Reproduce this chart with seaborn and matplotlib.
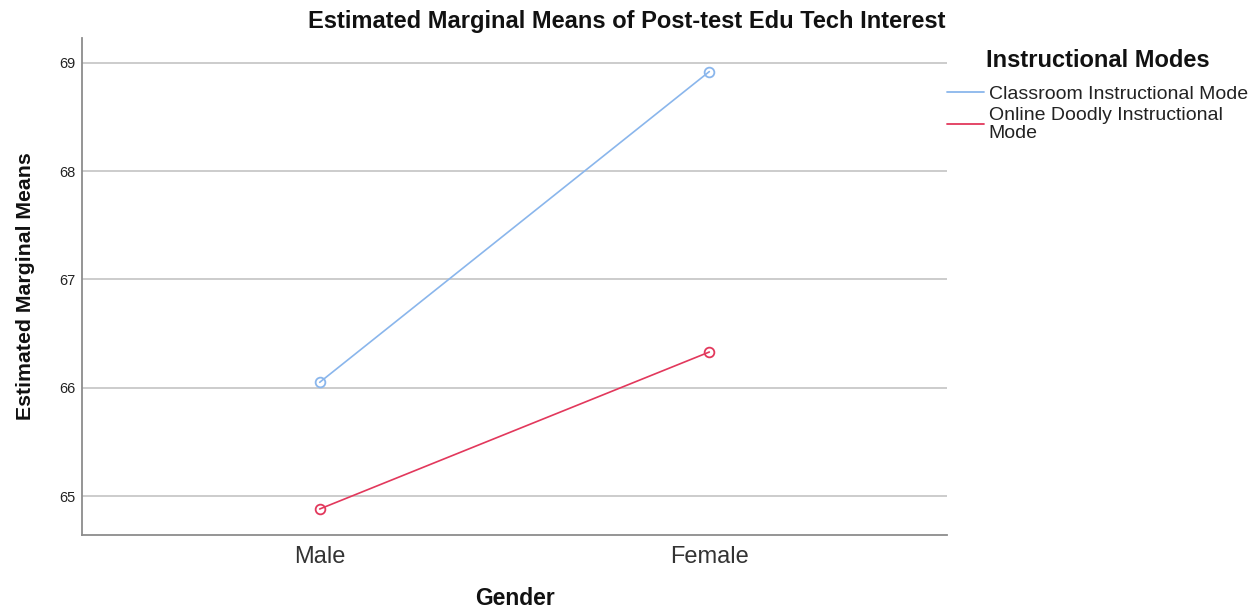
import matplotlib
matplotlib.use("Agg")
import matplotlib.pyplot as plt
import seaborn as sns
import pandas as pd
from matplotlib.lines import Line2D

genders = ["Male", "Female"]
modes = ["Classroom Instructional Mode", "Online Doodly Instructional\nMode"]
classroom_means = [66.05, 68.92]
online_means = [64.88, 66.33]
yticks = [65, 66, 67, 68, 69]

colors = ["#8ab6ec", "#e2385c"]

df = pd.DataFrame({
    "Gender": genders * 2,
    "Mean": classroom_means + online_means,
    "Mode": [modes[0]] * 2 + [modes[1]] * 2,
})

sns.set_theme(style="white")
plt.rcParams["font.family"] = ["Liberation Sans", "DejaVu Sans"]

fig = plt.figure(figsize=(12.59, 6.09), dpi=100)
ax = fig.add_axes([82 / 1259, 1 - 535 / 609, (947 - 82) / 1259, (535 - 38) / 609])

sns.pointplot(data=df, x="Gender", y="Mean", hue="Mode", order=genders,
              hue_order=modes, palette=colors, markers="o", linestyles="-",
              markersize=7, linewidth=1.2, markerfacecolor="none",
              markeredgewidth=1.3, errorbar=None, ax=ax, legend=False)

ax.set_xlim(-0.61, 1.61)
ax.set_ylim(64.64, 69.23)
ax.set_yticks(yticks)
ax.set_yticklabels([str(t) for t in yticks])
ax.yaxis.grid(True, color="#c8c8c8", linewidth=1.3)
ax.set_axisbelow(True)
for s in ["top", "right"]:
    ax.spines[s].set_visible(False)
for s in ["left", "bottom"]:
    ax.spines[s].set_color("#8c8c8c")
    ax.spines[s].set_linewidth(1.3)
ax.tick_params(axis="y", length=0, pad=5, labelsize=10.5, labelcolor="#222222")
ax.tick_params(axis="x", length=0, pad=8, labelsize=17, labelcolor="#333333")

ax.set_xlabel("Gender", fontsize=16.5, fontweight="bold", labelpad=13.5, color="#111111")
ax.set_ylabel("Estimated Marginal Means", fontsize=15.3, fontweight="bold",
              labelpad=17, color="#111111")
ax.set_title("Estimated Marginal Means of Post-test Edu Tech Interest",
             fontsize=17, fontweight="bold", pad=7, x=0.63, color="#111111")

handles = [Line2D([0], [0], color=c, lw=1.3) for c in colors]
leg = fig.legend(handles, modes, title="Instructional Modes", loc="upper left",
                 bbox_to_anchor=(947 / 1259, 1 - 49 / 609), frameon=False,
                 fontsize=14, title_fontsize=17, handlelength=1.9,
                 handletextpad=0.25, labelspacing=0.2, borderaxespad=0,
                 borderpad=0)
leg.get_title().set_fontweight("bold")
leg.get_title().set_color("#111111")
for t in leg.get_texts():
    t.set_linespacing(1.08)
    t.set_color("#222222")
leg._legend_box.sep = 9.5

fig.savefig("out.png", dpi=100)
